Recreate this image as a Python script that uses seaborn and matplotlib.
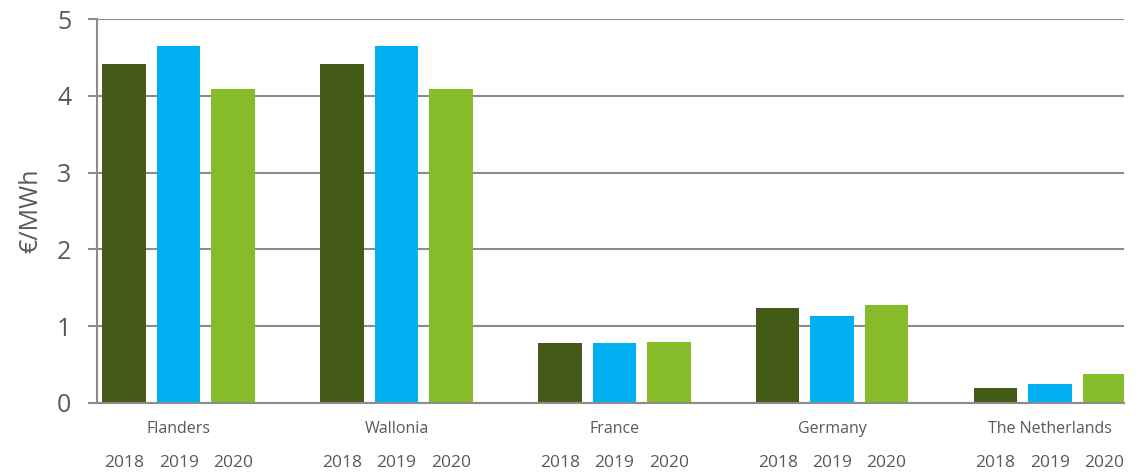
import numpy as np
import pandas as pd
import seaborn as sns
import matplotlib
matplotlib.use("Agg")
import matplotlib.pyplot as plt
import matplotlib.transforms as mtransforms

regions = ["Flanders", "Wallonia", "France", "Germany", "The Netherlands"]
years = ["2018", "2019", "2020"]
v2018 = [4.42, 4.42, 0.78, 1.24, 0.20]
v2019 = [4.65, 4.65, 0.78, 1.13, 0.25]
v2020 = [4.09, 4.09, 0.79, 1.28, 0.38]
colors = ["#435B16", "#00B0F0", "#86BC29"]

rows = []
for yr, vals in zip(years, [v2018, v2019, v2020]):
    for r, v in zip(regions, vals):
        rows.append({"region": r, "year": yr, "value": v})
df = pd.DataFrame(rows)

sns.set_theme(style="white")
plt.rcParams['font.family'] = ['Open Sans', 'DejaVu Sans']

fig = plt.figure(figsize=(11.39, 4.72), dpi=100)
ax = fig.add_axes([0.0852, 0.1462, 0.9016, 0.8135])

sns.barplot(data=df, x="region", y="value", hue="year", order=regions,
            hue_order=years, palette=colors, width=0.75, gap=0.2,
            saturation=1, legend=False, linewidth=0, ax=ax)

ax.set_ylim(0, 5)
ax.set_xlim(-0.375, 4.34)
ax.set_yticks([0, 1, 2, 3, 4, 5])
ax.yaxis.grid(True, color="#8c8c8c", linewidth=1.5)
ax.set_axisbelow(True)
for s in ["top", "right"]:
    ax.spines[s].set_visible(False)
for s in ["left", "bottom"]:
    ax.spines[s].set_color("#8c8c8c")
    ax.spines[s].set_linewidth(1.5)
ax.tick_params(axis="y", direction="out", length=6.5, width=1.5, color="#8c8c8c",
               labelsize=18, labelcolor="#595959", pad=12, left=True)
ax.tick_params(axis="x", length=0, labelsize=11.5, labelcolor="#595959", pad=13)
ax.set_xlabel("")
ax.set_ylabel("€/MWh", fontsize=18, color="#595959", labelpad=10)

trans = mtransforms.blended_transform_factory(ax.transData, ax.transAxes)
for i, p in enumerate(ax.patches):
    if p.get_height() == 0 and p.get_width() == 0:
        continue
    cx = p.get_x() + p.get_width() / 2
    hue_idx = i // len(regions)
    if hue_idx < len(years):
        ax.text(cx, -0.155, years[hue_idx], transform=trans, ha="center",
                va="center", fontsize=12.5, color="#595959", clip_on=False)

fig.savefig("out.png", dpi=100)
